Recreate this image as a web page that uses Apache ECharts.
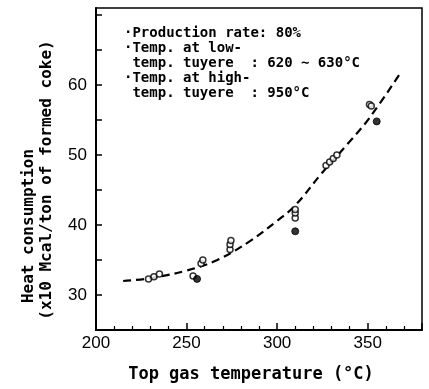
<!DOCTYPE html>
<html>
<head>
<meta charset="utf-8">
<script src="https://cdn.jsdelivr.net/npm/echarts@6/dist/echarts.min.js"></script>
<style>html,body{margin:0;padding:0;background:#fff}#c{width:429px;height:389px}</style>
</head>
<body>
<div id="c"></div>
<script>
// Measured open-circle points [top gas temp °C, heat consumption x10 Mcal/t]
const openTemp = [229, 232, 235, 253.6, 258, 259, 274, 274, 274.5, 310, 310, 310, 327, 329, 331, 333, 351, 352];
const openHeat = [32.3, 32.6, 33.0, 32.7, 34.5, 35.0, 36.5, 37.2, 37.8, 41.0, 41.7, 42.2, 48.5, 49.0, 49.5, 50.0, 57.2, 57.0];
// Measured filled points
const filledTemp = [255.8, 310, 355];
const filledHeat = [32.3, 39.1, 54.8];
// Dashed fitted curve
const curveTemp = [215, 230, 250, 267, 285, 300, 310, 325, 339, 351, 368];
const curveHeat = [32.0, 32.4, 33.5, 35.0, 37.7, 40.6, 42.8, 47.5, 51.6, 55.3, 61.7];
// Axis ticks
const xTickLabels = [200, 250, 300, 350];
const yTickLabels = [30, 40, 50, 60];
const xTitle = 'Top gas temperature (\u00b0C)';
const yTitle1 = 'Heat consumption';
const yTitle2 = '(x10 Mcal/ton of formed coke)';
const noteLines = [
  '\u00b7Production rate: 80%',
  '\u00b7Temp. at low-',
  ' temp. tuyere  : 620 \u223c 630\u00b0C',
  '\u00b7Temp. at high-',
  ' temp. tuyere  : 950\u00b0C'
];

const zip = (a, b) => a.map((v, i) => [v, b[i]]);
const chart = echarts.init(document.getElementById('c'), null, {renderer: 'canvas'});
const mono = '"DejaVu Sans Mono", monospace';
const sans = '"Liberation Sans", Arial, sans-serif';
chart.setOption({
  animation: false,
  backgroundColor: '#fff',
  grid: {left: 96, right: 7, top: 8, bottom: 59, show: true, borderColor: '#000', borderWidth: 1.5, backgroundColor: 'transparent'},
  xAxis: {
    type: 'value', min: 200, max: 380, interval: 50,
    axisLine: {show: true, onZero: false, lineStyle: {color: '#000', width: 2}},
    axisTick: {inside: true, length: 7, lineStyle: {color: '#000', width: 1.5}},
    minorTick: {show: true, splitNumber: 5, length: 4, lineStyle: {color: '#000', width: 1.2}},
    splitLine: {show: false},
    axisLabel: {color: '#000', fontFamily: sans, fontSize: 17, margin: 5,
      formatter: v => xTickLabels.includes(v) ? String(v) : ''}
  },
  yAxis: {
    type: 'value', min: 25, max: 71, interval: 5,
    axisLine: {show: true, onZero: false, lineStyle: {color: '#000', width: 2}},
    axisTick: {inside: true, length: 6, lineStyle: {color: '#000', width: 1.5}},
    splitLine: {show: false},
    axisLabel: {color: '#000', fontFamily: sans, fontSize: 17, margin: 9, showMaxLabel: false,
      formatter: v => yTickLabels.includes(v) ? String(v) : ''}
  },
  graphic: [
    {type: 'text', x: 251, y: 375,
      style: {text: xTitle, font: 'bold 17px ' + mono, fill: '#000', textAlign: 'center', textVerticalAlign: 'middle'}},
    {type: 'text', x: 29, y: 226, rotation: Math.PI / 2,
      style: {text: yTitle1, font: 'bold 16px ' + mono, fill: '#000', textAlign: 'center', textVerticalAlign: 'middle'}},
    {type: 'text', x: 47, y: 180, rotation: Math.PI / 2,
      style: {text: yTitle2, font: 'bold 16px ' + mono, fill: '#000', textAlign: 'center', textVerticalAlign: 'middle'}},
    ...noteLines.map((t, i) => ({type: 'text', x: 124, y: 33 + i * 15,
      style: {text: t, font: 'bold 14px ' + mono, fill: '#000', textAlign: 'left', textVerticalAlign: 'middle'}}))
  ],
  series: [
    {type: 'line', data: zip(curveTemp, curveHeat), smooth: 0.4, symbol: 'none',
      lineStyle: {color: '#000', width: 2.2, type: [8, 5]}, z: 2},
    {type: 'scatter', data: zip(openTemp, openHeat), symbol: 'circle', symbolSize: 6,
      itemStyle: {color: '#fff', borderColor: '#000', borderWidth: 1.5}, z: 3},
    {type: 'scatter', data: zip(filledTemp, filledHeat), symbol: 'circle', symbolSize: 7,
      itemStyle: {color: '#000', borderColor: '#000', borderWidth: 1}, z: 3}
  ]
});
</script>
</body>
</html>
